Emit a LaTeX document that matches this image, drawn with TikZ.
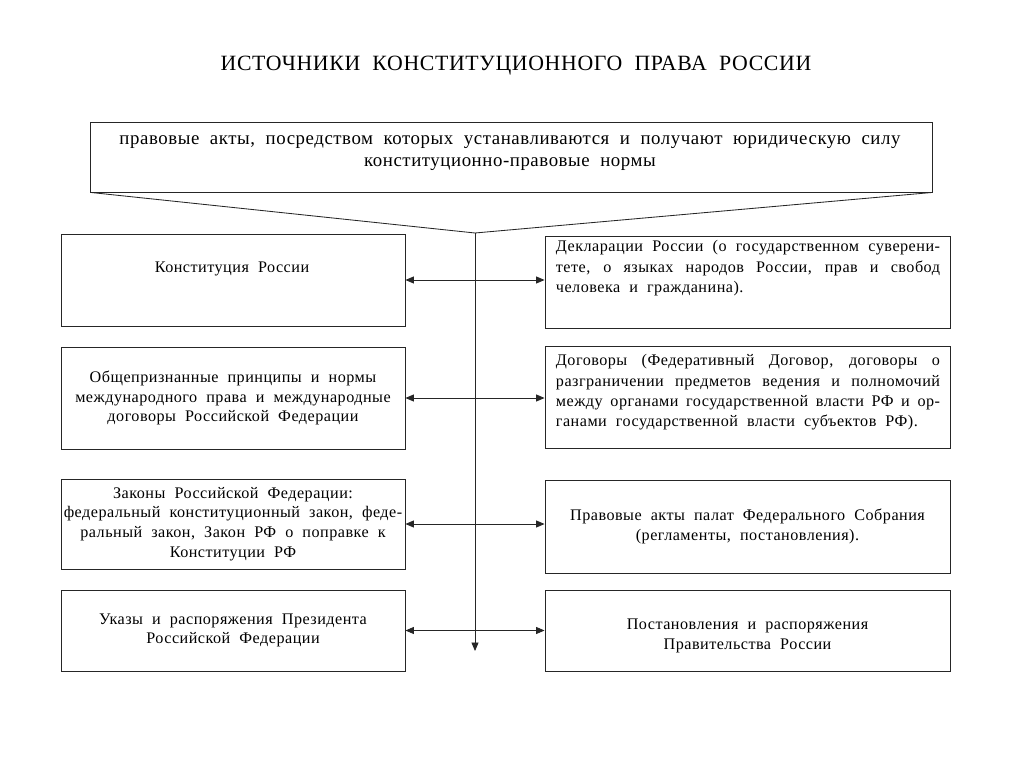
\documentclass[tikz,border=0pt]{standalone}
\usepackage{fontspec}
\setmainfont{Liberation Serif}[WordSpace=2, LetterSpace=3]
\usetikzlibrary{arrows.meta}
\hyphenpenalty=10000
\exhyphenpenalty=10000

\tikzset{
    box/.style={draw=black!85, line width=0.6pt, inner sep=0pt},
    lbox/.style={box, minimum width=8.6cm},
    rbox/.style={box, minimum width=10.125cm},
    txt/.style={font=\fontsize{11.5}{14}\selectfont, align=center},
    rtxt/.style={font=\fontsize{11.5}{14.5}\selectfont, align=justify, text width=9.6cm, inner sep=0pt},
}

\begin{document}
\begin{tikzpicture}[x=0.025cm, y=-0.025cm, >={Triangle[length=6pt, width=5pt]}, line width=0.6pt]
    \useasboundingbox (0,0) rectangle (1024,767);

    \node[font=\fontsize{15.5}{18}\selectfont](Title) at (516, 66) {ИСТОЧНИКИ КОНСТИТУЦИОННОГО ПРАВА РОССИИ};

    % top box
    \node[box, minimum width=21.025cm, minimum height=1.75cm](Src) at (511.5, 157) {};
    \node[txt, anchor=north, font=\fontsize{13.4}{15.8}\selectfont, inner sep=0pt](Src_t) at (510, 135)
        {правовые акты, посредством которых устанавливаются и получают юридическую силу\\
         конституционно-правовые нормы};
    \coordinate (Split) at (475, 233);
    \coordinate (Down) at (475, 651);
    \draw[black!85] (Src.south west) -- (Split) -- (Src.south east);
    \path[->, black!85] (Split) edge (Down);

    % left column
    \node[lbox, minimum height=2.3cm](L1) at (233, 280) {};
    \node[txt, anchor=base](L1_t) at (232, 273) {Конституция России};
    \node[lbox, minimum height=2.55cm, txt](L2) at (233, 398)
        {Общепризнанные принципы и нормы\\ международного права и международные\\ договоры Российской Федерации};
    \node[lbox, minimum height=2.25cm, txt](L3) at (233, 524)
        {Законы Российской Федерации:\\ федеральный конституционный закон, феде-\\ ральный закон, Закон РФ о поправке к\\ Конституции РФ};
    \node[lbox, minimum height=2.025cm, txt](L4) at (233, 630.5)
        {Указы и распоряжения Президента\\ Российской Федерации};

    % right column
    \node[rbox, minimum height=2.3cm](R1) at (747.5, 282) {};
    \node[rtxt, anchor=north](R1_t) at (748, 240)
        {Декларации России (о государственном суверени-\linebreak тете, о языках народов России, прав и свобод\linebreak человека и гражданина).};
    \node[rbox, minimum height=2.55cm](R2) at (747.5, 397) {};
    \node[rtxt, anchor=north](R2_t) at (748, 354)
        {Договоры (Федеративный Договор, договоры о\linebreak разграничении предметов ведения и полномочий\linebreak между органами государственной власти РФ и ор-\linebreak ганами государственной власти субъектов РФ).};
    \node[rbox, minimum height=2.325cm, txt](R3) at (747.5, 526.5)
        {Правовые акты палат Федерального Собрания\\ (регламенты, постановления).};
    \node[rbox, minimum height=2.025cm](R4) at (747.5, 630.5) {};
    \node[txt](R4_t) at (747.5, 636)
        {Постановления и распоряжения\\ Правительства России};

    % links
    \path[<->, black!85] (L1) edge (L1 -| R1.west);
    \path[<->, black!85] (L2) edge (L2 -| R2.west);
    \path[<->, black!85] (L3) edge (L3 -| R3.west);
    \path[<->, black!85] (L4) edge (L4 -| R4.west);

\end{tikzpicture}
\end{document}
